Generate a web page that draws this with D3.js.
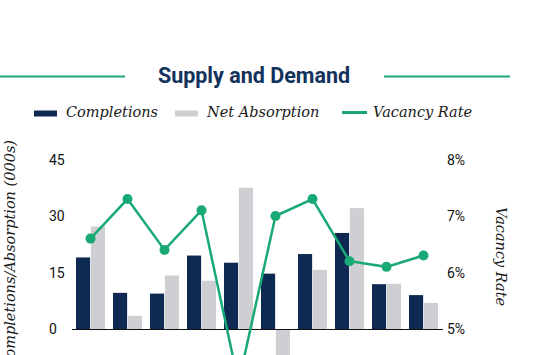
<!DOCTYPE html>
<html>
<head>
<meta charset="utf-8">
<script src="https://cdn.jsdelivr.net/npm/d3@7"></script>
<style>
  html, body { margin: 0; padding: 0; background: #ffffff; }
  svg { display: block; }
</style>
</head>
<body>
<svg id="chart" width="560" height="355"></svg>
<script>
// ---- data ----
const categories = ["2015", "2016", "2017", "2018", "2019", "2020", "2021", "2022", "2023", "2024"];
const completions = [19, 9.6, 9.4, 19.5, 17.6, 14.7, 19.9, 25.5, 11.9, 9.0];
const netAbsorption = [27.2, 3.5, 14.2, 12.8, 37.5, -8, 15.7, 32.1, 12, 6.9];
const vacancyRate = [6.6, 7.3, 6.4, 7.1, 4.05, 7.0, 7.3, 6.2, 6.1, 6.3];
const leftTicks = [0, 15, 30, 45];
const rightTicks = [0.05, 0.06, 0.07, 0.08];
const seriesNames = ["Completions", "Net Absorption", "Vacancy Rate"];
const titleText = "Supply and Demand";
const leftAxisTitle = "Completions/Absorption (000s)";
const rightAxisTitle = "Vacancy Rate";

// ---- styles ----
const NAVY = "#0f2a52";
const GREY = "#cdcfd2";
const GREEN = "#19a974";
const TITLE_COLOR = "#13325b";
const sans = "Roboto, 'Liberation Sans', sans-serif";
const serif = "'DejaVu Serif', 'Liberation Serif', serif";

const svg = d3.select("#chart");

// scales
const x = d3.scaleBand().domain(categories).range([72, 442]).padding(0);
const sub = d3.scaleBand().domain(["c", "a"]).range([4, 33]).paddingInner(0.05);
const yL = d3.scaleLinear().domain([0, 45]).range([329, 159.5]);
const yR = d3.scaleLinear().domain([0.05, 0.08]).range([329, 159.5]);

// title with side rules
svg.append("line").attr("x1", 0).attr("x2", 125).attr("y1", 76.5).attr("y2", 76.5)
  .attr("stroke", GREEN).attr("stroke-width", 2);
svg.append("line").attr("x1", 384).attr("x2", 510).attr("y1", 76.5).attr("y2", 76.5)
  .attr("stroke", GREEN).attr("stroke-width", 2);
svg.append("text").attr("x", 254).attr("y", 82.5).attr("text-anchor", "middle")
  .attr("font-family", sans).attr("font-weight", 700).attr("font-size", 21.5)
  .attr("fill", TITLE_COLOR).text(titleText);

// legend
const lg = svg.append("g").attr("font-family", serif).attr("font-style", "italic")
  .attr("font-size", 14.5).attr("fill", "#1a1a1a");
lg.append("rect").attr("x", 34).attr("y", 110.5).attr("width", 23).attr("height", 6).attr("fill", NAVY);
lg.append("text").attr("x", 66).attr("y", 117).text(seriesNames[0]);
lg.append("rect").attr("x", 175).attr("y", 110.5).attr("width", 23).attr("height", 6).attr("fill", GREY);
lg.append("text").attr("x", 207).attr("y", 117).text(seriesNames[1]);
lg.append("line").attr("x1", 342).attr("x2", 367).attr("y1", 112.5).attr("y2", 112.5)
  .attr("stroke", GREEN).attr("stroke-width", 3);
lg.append("text").attr("x", 373).attr("y", 117).text(seriesNames[2]);

// bars
const groups = svg.append("g").selectAll("g").data(categories).join("g")
  .attr("transform", d => `translate(${x(d)},0)`);
groups.append("rect")
  .attr("x", sub("c")).attr("width", sub.bandwidth())
  .attr("y", (d, i) => yL(Math.max(0, completions[i])))
  .attr("height", (d, i) => Math.abs(yL(completions[i]) - yL(0)))
  .attr("fill", NAVY);
groups.append("rect")
  .attr("x", sub("a")).attr("width", sub.bandwidth())
  .attr("y", (d, i) => yL(Math.max(0, netAbsorption[i])))
  .attr("height", (d, i) => Math.abs(yL(netAbsorption[i]) - yL(0)))
  .attr("fill", GREY);

// baseline
svg.append("line").attr("x1", 72).attr("x2", 443).attr("y1", yL(0) + 0.5).attr("y2", yL(0) + 0.5)
  .attr("stroke", "#111").attr("stroke-width", 1);

// left axis ticks
svg.append("g").selectAll("text").data(leftTicks).join("text")
  .attr("x", 49).attr("y", d => yL(d)).attr("dy", "0.36em")
  .attr("font-family", sans).attr("font-size", 14).attr("fill", "#111")
  .text(d => d3.format("d")(d));
// right axis ticks
svg.append("g").selectAll("text").data(rightTicks).join("text")
  .attr("x", 447).attr("y", d => yR(d)).attr("dy", "0.36em")
  .attr("font-family", sans).attr("font-size", 14).attr("fill", "#111")
  .text(d => d3.format(".0%")(d));

// vacancy line
const cx = d => x(d) + x.bandwidth() / 2;
const line = d3.line().x((d, i) => cx(categories[i])).y(d => yR(d / 100));
svg.append("path").datum(vacancyRate).attr("d", line)
  .attr("fill", "none").attr("stroke", GREEN).attr("stroke-width", 2.5);
svg.append("g").selectAll("circle").data(vacancyRate).join("circle")
  .attr("cx", (d, i) => cx(categories[i])).attr("cy", d => yR(d / 100))
  .attr("r", 5).attr("fill", GREEN);

// axis titles
svg.append("text").attr("transform", "translate(15,140) rotate(-90)")
  .attr("text-anchor", "end").attr("font-family", serif).attr("font-style", "italic")
  .attr("font-size", 14.5).attr("fill", "#1a1a1a").text(leftAxisTitle);
svg.append("text").attr("transform", "translate(496,207) rotate(90)")
  .attr("text-anchor", "start").attr("font-family", serif).attr("font-style", "italic")
  .attr("font-size", 14.5).attr("fill", "#1a1a1a").text(rightAxisTitle);
</script>
</body>
</html>
